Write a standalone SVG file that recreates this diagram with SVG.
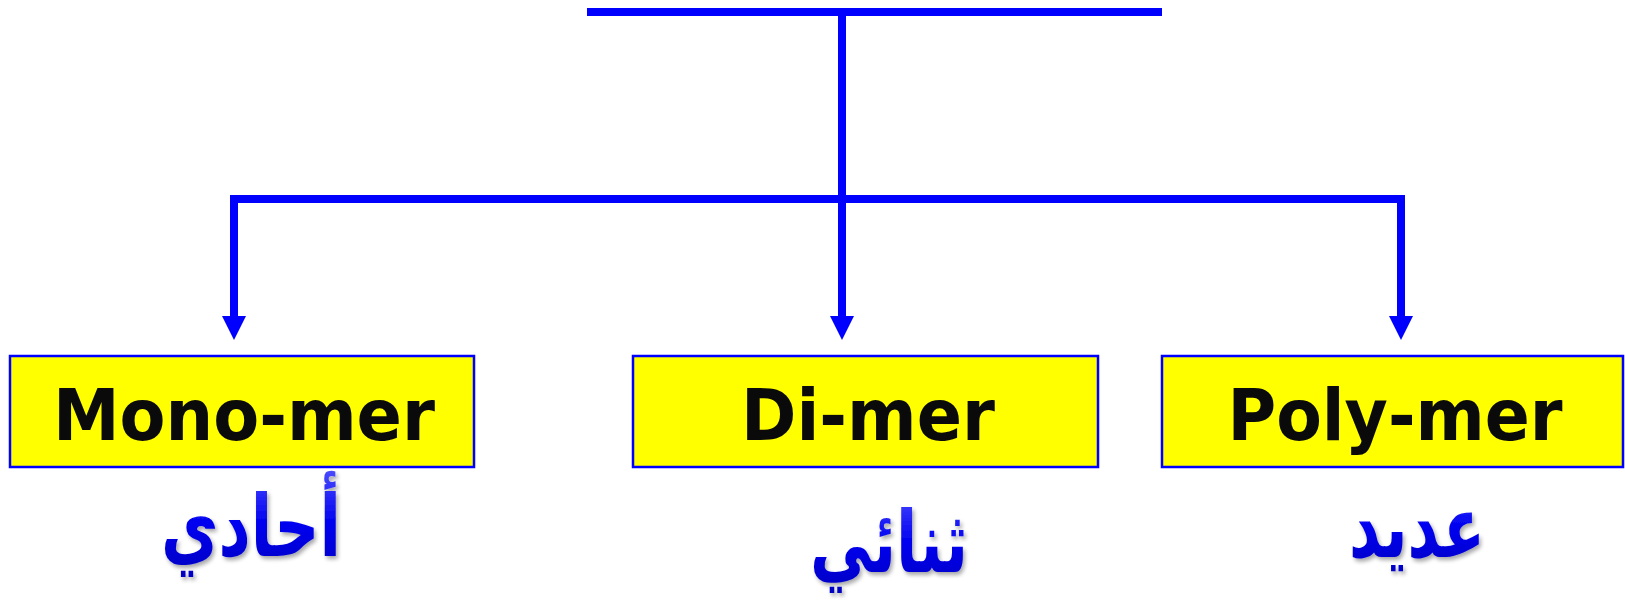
<svg xmlns="http://www.w3.org/2000/svg" width="1625" height="610" viewBox="0 0 1625 610">
<style>
.ln{stroke:#0000FF;stroke-width:8;fill:none}
.box{fill:#FFFF00;stroke:#0000FF;stroke-width:2.5}
.lbl{font-family:"DejaVu Sans","Liberation Sans",sans-serif;font-weight:bold;font-size:72px;fill:#0a0a0a;text-anchor:middle}
.ar{font-family:"DejaVu Sans","Noto Sans",sans-serif;font-weight:bold;font-size:86px;fill:url(#blueg);text-anchor:middle;filter:url(#sh)}
</style>
<defs>
<marker id="ah" markerUnits="userSpaceOnUse" markerWidth="24" markerHeight="24" refX="0" refY="12" viewBox="0 0 24 24" orient="auto">
<path d="M0,0 L24,12 L0,24 Z" fill="#0000FF"/>
</marker>
<linearGradient id="blueg" x1="0" y1="0" x2="0" y2="1">
<stop offset="0" stop-color="#4a4aff"/>
<stop offset="0.5" stop-color="#0000f0"/>
<stop offset="1" stop-color="#0000c0"/>
</linearGradient>
<filter id="sh" x="-20%" y="-20%" width="140%" height="140%">
<feGaussianBlur in="SourceAlpha" stdDeviation="2"/>
<feOffset dx="2" dy="3" result="b"/>
<feComponentTransfer><feFuncA type="linear" slope="0.35"/></feComponentTransfer>
<feMerge><feMergeNode/><feMergeNode in="SourceGraphic"/></feMerge>
</filter>
</defs>
<g id="connectors">
<line class="ln" x1="587" y1="12" x2="1162" y2="12"/>
<line class="ln" x1="842" y1="12" x2="842" y2="199"/>
<line class="ln" x1="230" y1="199" x2="1405" y2="199"/>
<path class="ln" d="M234,195 V316" marker-end="url(#ah)"/>
<path class="ln" d="M842,199 V316" marker-end="url(#ah)"/>
<path class="ln" d="M1401,195 V316" marker-end="url(#ah)"/>
</g>
<g id="monomer">
<rect class="box" x="10" y="356" width="464" height="111"/>
<text class="lbl" x="244" y="440" textLength="382" lengthAdjust="spacingAndGlyphs">Mono-mer</text>
<text class="ar" x="251" y="556" textLength="180" lengthAdjust="spacingAndGlyphs">أحادي</text>
</g>
<g id="dimer">
<rect class="box" x="633" y="356" width="465" height="111"/>
<text class="lbl" x="868" y="440" textLength="254" lengthAdjust="spacingAndGlyphs">Di-mer</text>
<text class="ar" x="889" y="572" textLength="158" lengthAdjust="spacingAndGlyphs">ثنائي</text>
</g>
<g id="polymer">
<rect class="box" x="1162" y="356" width="461" height="111"/>
<text class="lbl" x="1395" y="440" textLength="335" lengthAdjust="spacingAndGlyphs">Poly-mer</text>
<text class="ar" x="1417" y="557" textLength="136" lengthAdjust="spacingAndGlyphs">عديد</text>
</g>
</svg>
